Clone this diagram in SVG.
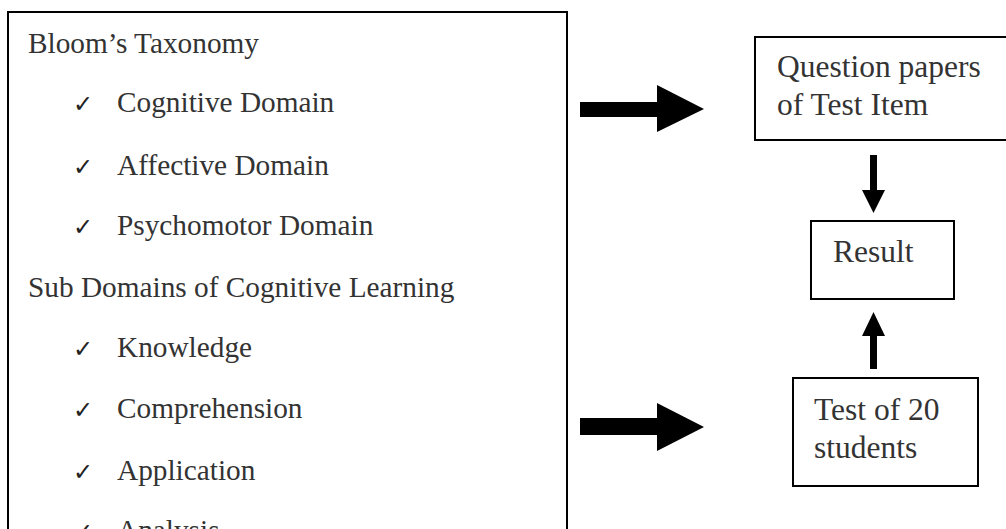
<svg xmlns="http://www.w3.org/2000/svg" width="1006" height="529" viewBox="0 0 1006 529">
<style>
.box{fill:#fff;stroke:#000;stroke-width:2}
.t{font-family:"Liberation Serif","Times New Roman",serif;font-size:29.3px;fill:#333}
.r{font-family:"Liberation Serif","Times New Roman",serif;font-size:31.5px;fill:#333}
.ck{font-family:"DejaVu Sans",sans-serif;font-size:24px;fill:#222}
.arr{fill:#000}
</style>
<rect width="1006" height="529" fill="#fff"/>
<g id="taxonomy">
<rect class="box" x="8" y="12" width="559" height="530"/>
<text class="t" x="28" y="53">Bloom’s Taxonomy</text>
<text class="ck" x="73" y="112">✓</text><text class="t" x="117" y="112">Cognitive Domain</text>
<text class="ck" x="73" y="175">✓</text><text class="t" x="117" y="175">Affective Domain</text>
<text class="ck" x="73" y="235">✓</text><text class="t" x="117" y="235">Psychomotor Domain</text>
<text class="t" x="28" y="297">Sub Domains of Cognitive Learning</text>
<text class="ck" x="73" y="357">✓</text><text class="t" x="117" y="357">Knowledge</text>
<text class="ck" x="73" y="418">✓</text><text class="t" x="117" y="418">Comprehension</text>
<text class="ck" x="73" y="480">✓</text><text class="t" x="117" y="480">Application</text>
<text class="ck" x="73" y="540">✓</text><text class="t" x="117" y="540">Analysis</text>
</g>
<g id="question">
<rect class="box" x="755" y="37" width="260" height="103"/>
<text class="r" x="777" y="77">Question papers</text>
<text class="r" x="777" y="115">of Test Item</text>
</g>
<g id="result">
<rect class="box" x="811" y="221" width="143" height="78"/>
<text class="r" x="833" y="262">Result</text>
</g>
<g id="test">
<rect class="box" x="793" y="378" width="185" height="108"/>
<text class="r" x="814" y="420">Test of 20</text>
<text class="r" x="814" y="458">students</text>
</g>
<g id="connectors">
<polygon class="arr" points="580,102 657,102 657,85 704,109 657,132 657,117 580,117"/>
<polygon class="arr" points="580,418 657,418 657,403 704,427 657,451 657,435 580,435"/>
<polygon class="arr" points="870,155 877,155 877,190 885,190 873.5,213 862,190 870,190"/>
<polygon class="arr" points="870,369 877,369 877,336 885,336 873.5,312 862,336 870,336"/>
</g>
</svg>
